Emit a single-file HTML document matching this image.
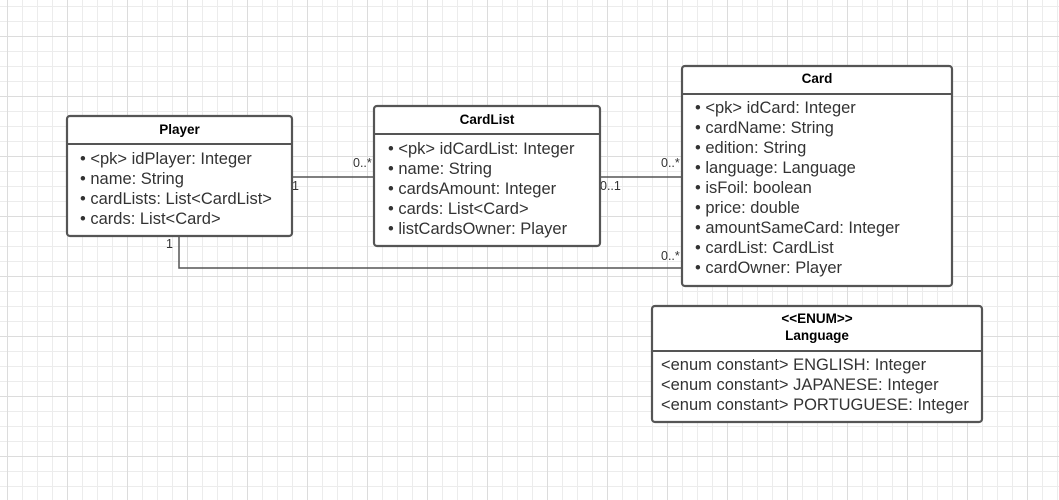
<!DOCTYPE html>
<html><head><meta charset="utf-8"><style>
html,body{margin:0;padding:0;background:#fff;}
svg{display:block;font-family:"Liberation Sans",Arial,sans-serif;}
.t{font-size:16.5px;fill:#333;}
.h{font-size:13.5px;font-weight:bold;fill:#000;text-anchor:middle;}
.l{font-size:12.5px;fill:#333;}
.b{fill:#fff;stroke:#555;stroke-width:2.2;}
.c{stroke:#555;stroke-width:1.5;fill:none;}
</style></head><body>
<svg width="1059" height="500" viewBox="0 0 1059 500">
<defs>
<pattern id="g" x="7" y="6" width="15" height="15" patternUnits="userSpaceOnUse">
<path d="M0.5 0V15M0 0.5H15" stroke="#ececec" stroke-width="1" fill="none"/>
</pattern>
<pattern id="G" x="67" y="36" width="60" height="60" patternUnits="userSpaceOnUse">
<path d="M0.5 0V60M0 0.5H60" stroke="#dcdcdc" stroke-width="1" fill="none"/>
</pattern>
</defs>
<rect width="1059" height="500" fill="url(#g)"/>
<rect width="1059" height="500" fill="url(#G)"/>

<path class="c" d="M292 177H374"/>
<path class="c" d="M600 177H682"/>
<path class="c" d="M179 236V268H682"/>
<text class="l" x="353" y="167">0..*</text>
<text class="l" x="292" y="190">1</text>
<text class="l" x="661" y="167">0..*</text>
<text class="l" x="600" y="190">0..1</text>
<text class="l" x="166" y="248">1</text>
<text class="l" x="661" y="260">0..*</text>

<rect class="b" x="67" y="116" width="225" height="120" rx="3"/>
<path class="c" style="stroke-width:2" d="M67 144H292"/>
<text class="h" x="179.5" y="134">Player</text>
<text class="t" x="80" y="164">• &lt;pk&gt; idPlayer: Integer</text>
<text class="t" x="80" y="184">• name: String</text>
<text class="t" x="80" y="204">• cardLists: List&lt;CardList&gt;</text>
<text class="t" x="80" y="224">• cards: List&lt;Card&gt;</text>

<rect class="b" x="374" y="106" width="226" height="140" rx="3"/>
<path class="c" style="stroke-width:2" d="M374 134H600"/>
<text class="h" x="487" y="124">CardList</text>
<text class="t" x="388" y="154">• &lt;pk&gt; idCardList: Integer</text>
<text class="t" x="388" y="174">• name: String</text>
<text class="t" x="388" y="194">• cardsAmount: Integer</text>
<text class="t" x="388" y="214">• cards: List&lt;Card&gt;</text>
<text class="t" x="388" y="234">• listCardsOwner: Player</text>

<rect class="b" x="682" y="66" width="270" height="220" rx="3"/>
<path class="c" style="stroke-width:2" d="M682 94H952"/>
<text class="h" x="817" y="83">Card</text>
<text class="t" x="695" y="113">• &lt;pk&gt; idCard: Integer</text>
<text class="t" x="695" y="133">• cardName: String</text>
<text class="t" x="695" y="153">• edition: String</text>
<text class="t" x="695" y="173">• language: Language</text>
<text class="t" x="695" y="193">• isFoil: boolean</text>
<text class="t" x="695" y="213">• price: double</text>
<text class="t" x="695" y="233">• amountSameCard: Integer</text>
<text class="t" x="695" y="253">• cardList: CardList</text>
<text class="t" x="695" y="273">• cardOwner: Player</text>

<rect class="b" x="652" y="306" width="330" height="116" rx="3"/>
<path class="c" style="stroke-width:2" d="M652 351H982"/>
<text class="h" x="817" y="323">&lt;&lt;ENUM&gt;&gt;</text>
<text class="h" x="817" y="340">Language</text>
<text class="t" x="661" y="370">&lt;enum constant&gt; ENGLISH: Integer</text>
<text class="t" x="661" y="390">&lt;enum constant&gt; JAPANESE: Integer</text>
<text class="t" x="661" y="410">&lt;enum constant&gt; PORTUGUESE: Integer</text>
</svg>
</body></html>
